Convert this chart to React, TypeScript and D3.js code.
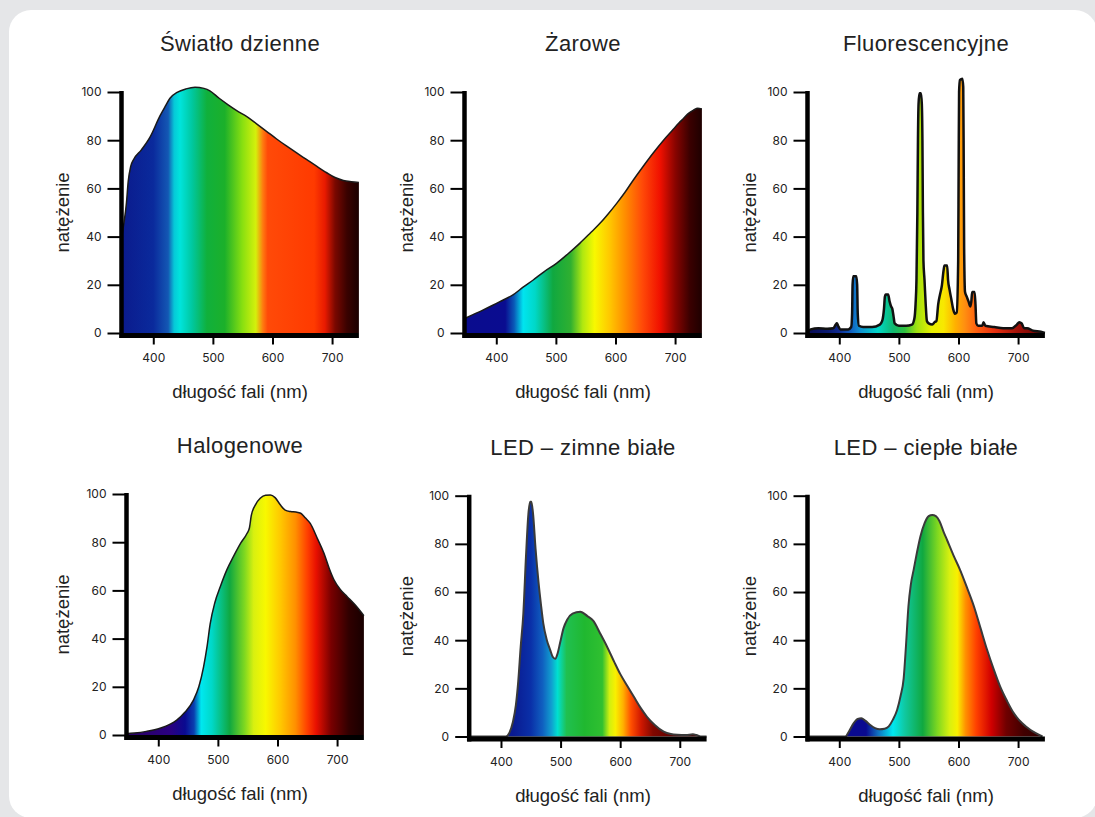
import React, { useEffect, useRef } from 'react';
import * as d3 from 'd3';

// wavelength (nm), relative intensity
const daylight: [number, number][] = [
  [347, 40], [351, 46], [355, 54], [358, 63], [362, 69], [367, 72], [380, 76], [395, 81.5], [411, 90],
  [420, 94], [428, 97.4], [440, 99.8], [455, 101.3], [470, 102], [485, 101.5], [495, 100.5], [510, 97.5],
  [525, 94.8], [540, 92.3], [557, 89.8], [575, 86.5], [590, 83.7], [607, 80.5], [624, 77.5], [640, 74.8],
  [657, 72], [674, 69.2], [691, 66.5], [705, 64.5], [719, 63.3], [732, 62.8], [745, 62.5],
];

const incandescent: [number, number][] = [
  [347, 6], [360, 7.5], [375, 9.2], [395, 11.6], [410, 13.5], [428, 15.8], [445, 19], [462, 22], [480, 25.4],
  [501, 28.9], [520, 32.8], [540, 37.2], [557, 41.3], [574, 45.5], [588, 49.5], [602, 53.8], [616, 58.4],
  [630, 63.5], [646, 69], [663, 74.6], [680, 79.8], [697, 84.5], [706, 87], [714, 89], [722, 91], [731, 92.5],
  [738, 93.3], [745, 93],
];

const fluorescent: [number, number][] = [
  [347, 0.5], [352, 1.5], [365, 2], [380, 1.8], [390, 2], [394, 3.5], [396, 4], [398, 3], [402, 1.5],
  [415, 1.5], [420, 2.5], [421.5, 8], [422.3, 20], [423.5, 23.5], [428.5, 23.5], [430, 20], [431, 8],
  [433, 3], [440, 2.5], [455, 2.5], [468, 3.5], [472, 5], [475, 10], [476.5, 15], [478, 16], [482, 16],
  [484.5, 13], [487, 11], [489, 10], [491, 7], [493, 4], [500, 3], [512, 3], [522, 3.5], [526, 6],
  [528, 12], [529.5, 22], [531, 50], [532, 80], [533, 95], [534.5, 99.5], [537, 99.5], [538.5, 95],
  [539.5, 80], [540.3, 50], [541.2, 30], [543, 22], [545, 12], [547, 5], [550, 4], [556, 3.5], [560, 4.5],
  [563, 5], [566, 12], [569, 16], [572, 19.5], [575, 26], [576.5, 28], [581, 28], [582.5, 22], [585, 18],
  [588, 14], [591, 10], [594, 8], [597, 8.5], [599.5, 30], [600.3, 70], [601, 100], [602.5, 105],
  [606.5, 105.5], [608, 102], [608.8, 70], [609.5, 35], [611, 17], [614, 15], [617, 13], [620, 11],
  [621.5, 13], [623, 17], [627, 17], [628.5, 12], [630, 4], [633, 3], [640, 3], [642, 4.5], [645, 3],
  [660, 2.5], [675, 2], [690, 2], [698, 3.5], [702, 4.5], [706, 4], [710, 2], [715, 2], [725, 1],
  [738, 0.5], [745, 0],
];

const halogen: [number, number][] = [
  [345, 0.5], [360, 0.8], [380, 1.5], [403, 2.8], [420, 4.5], [431, 6.2], [445, 9.5], [459, 14.5], [468, 20],
  [476, 28.3], [482, 37], [487, 46], [495, 55], [504, 61.5], [515, 68.5], [526, 74], [538, 79.5], [549, 83.7],
  [553, 86], [556, 91], [563, 95.5], [571, 98.2], [580, 99.5], [588, 99.6], [596, 98.5], [605, 95.4],
  [613, 93.3], [622, 92.7], [631, 92.5], [639, 92], [647, 90], [655, 87.8], [667, 81.5], [678, 75.4],
  [687, 69], [695, 64.3], [705, 60.5], [717, 57.4], [732, 53.5], [745, 49.5],
];

const ledCool: [number, number][] = [
  [345, 0], [408, 0], [414, 1.5], [420, 6], [425, 13], [429, 23], [433, 37], [437.5, 51], [442, 75],
  [446, 92.5], [449, 97.5], [451, 97.5], [454, 92], [458, 78], [463, 64], [467, 55], [471, 47], [477, 40],
  [482.5, 36], [487, 33], [491, 32.3], [495, 34.5], [499, 38.7], [505, 45], [511, 48.5], [520, 51],
  [533, 51.8], [545, 50], [555, 48], [566, 43], [578, 37.3], [590, 31], [600, 26], [612, 21], [623, 16.5],
  [634, 12], [645, 8.2], [658, 4.8], [673, 2], [685, 1], [696, 0.7], [710, 0.6], [722, 0.9], [728, 0.6],
  [735, 0], [745, 0],
];

const ledWarm: [number, number][] = [
  [345, 0], [410, 0], [416, 2], [424, 5.5], [431, 7.3], [437, 7.6], [444, 6.5], [452, 4.8], [460, 3.5],
  [468, 3], [476, 3.2], [483, 4.2], [490, 7], [497, 11], [503, 17], [508, 24], [512, 38], [516, 54], [520, 63],
  [525, 69.5], [530, 76], [536, 83], [543, 88.5], [550, 91.5], [556, 92], [562, 91.5], [568, 89.5], [575, 85],
  [581, 81.5], [592, 75], [603, 69], [614, 62], [626, 54], [637, 45], [648, 36], [659, 28], [670, 20.7],
  [682, 14.5], [693, 9.6], [707, 5.5], [721, 2.7], [733, 1], [741, 0],
];

const titles = ['Światło dzienne', 'Żarowe', 'Fluorescencyjne', 'Halogenowe', 'LED – zimne białe', 'LED – ciepłe białe'];
const xTicks = [400, 500, 600, 700];
const yTicks = [0, 20, 40, 60, 80, 100];
const xLabel = 'długość fali (nm)';
const yLabel = 'natężenie';

// spectrum colour stops per panel (wavelength, colour)
const stopsDaylight: [number, string][] = [
  [345, '#0b1a8c'], [400, '#0a2a9c'], [425, '#1458b4'], [435, '#06c8d8'], [445, '#00e4dc'], [465, '#00c8a0'],
  [490, '#10b03c'], [520, '#1cb02a'], [550, '#8ae010'], [572, '#d4f00c'], [584, '#ff7a10'], [592, '#ff4a08'],
  [670, '#ff3a00'], [688, '#e81a00'], [705, '#7a0800'], [725, '#3a0200'], [745, '#1a0000'],
];
const stopsIncandescent: [number, string][] = [
  [345, '#0a0c8e'], [415, '#0a0c90'], [430, '#0a5ab8'], [445, '#00e4f0'], [465, '#00d8c8'], [495, '#10a840'],
  [525, '#30b030'], [545, '#b0e810'], [565, '#f8f800'], [590, '#ffc800'], [615, '#ff9000'], [645, '#ff4a08'],
  [675, '#f01000'], [700, '#8a0400'], [725, '#3a0000'], [745, '#1e0000'],
];
const stopsFluorescent: [number, string][] = [
  [345, '#0a0a50'], [380, '#0a1a70'], [400, '#102a90'], [420, '#1060c0'], [435, '#1090d0'], [465, '#00d8c8'],
  [490, '#10b870'], [510, '#30c040'], [530, '#a0e010'], [555, '#e8f000'], [575, '#f8e800'], [595, '#ffb000'],
  [610, '#ff9010'], [630, '#ff6010'], [660, '#e83010'], [700, '#a01008'], [745, '#600000'],
];
const stopsHalogen: [number, string][] = [
  [345, '#2a0060'], [420, '#2a0080'], [445, '#0a0a90'], [460, '#0a40b0'], [472, '#00e8f0'], [490, '#00d8c8'],
  [520, '#10a840'], [545, '#80d820'], [560, '#d8f010'], [580, '#f8f800'], [605, '#ffc800'], [630, '#ff9000'],
  [650, '#ff4000'], [665, '#e81000'], [690, '#780000'], [720, '#300000'], [745, '#180000'],
];
const stopsLedCool: [number, string][] = [
  [345, '#0a1a8a'], [420, '#0a1a90'], [450, '#0a30a8'], [470, '#1060c0'], [485, '#10a0d0'], [495, '#00e0d0'],
  [510, '#20c050'], [540, '#20b830'], [570, '#30c030'], [582, '#d0f010'], [592, '#f8f000'], [605, '#ffb000'],
  [618, '#ff5000'], [635, '#d01800'], [655, '#800800'], [690, '#600000'], [745, '#400000'],
];
const stopsLedWarm: [number, string][] = [
  [345, '#0a0a90'], [445, '#0a0a90'], [465, '#1070c0'], [490, '#00e8f0'], [510, '#10c8a0'], [540, '#10a840'],
  [565, '#80d820'], [585, '#d8f010'], [598, '#f8f000'], [612, '#ff9000'], [630, '#ff4000'], [655, '#d00000'],
  [680, '#700000'], [710, '#400000'], [745, '#300000'],
];

const series = [daylight, incandescent, fluorescent, halogen, ledCool, ledWarm];
const stops = [stopsDaylight, stopsIncandescent, stopsFluorescent, stopsHalogen, stopsLedCool, stopsLedWarm];

// layout: x of 345 nm, y of 0, y of 100, column centre, y-label x, outline
const layout = [
  { x0: 120.5, y0: 333, y100: 92, cx: 240, lx: 62, stroke: '#1a1a1a', sw: 1.5 },
  { x0: 463.5, y0: 333, y100: 92, cx: 583, lx: 406, stroke: '#1a1a1a', sw: 1.5 },
  { x0: 806.5, y0: 333, y100: 92, cx: 926, lx: 749, stroke: '#111', sw: 2.5 },
  { x0: 125.5, y0: 735, y100: 494, cx: 240, lx: 62, stroke: '#1a1a1a', sw: 1.5 },
  { x0: 468.2, y0: 736.5, y100: 495.7, cx: 583, lx: 406, stroke: '#3a3a3a', sw: 2 },
  { x0: 806.5, y0: 736.5, y100: 495.7, cx: 926, lx: 749, stroke: '#3a3a3a', sw: 2 },
];

const PX_PER_NM = 0.596;
const tickFont = 'Inter, "DejaVu Sans", sans-serif';
const textFont = '"Liberation Sans", Arial, sans-serif';

const Panel = ({ i }: { i: number }) => {
  const L = layout[i];
  const data = series[i];
  const xRef = useRef<SVGGElement>(null);
  const yRef = useRef<SVGGElement>(null);
  const x = d3.scaleLinear().domain([345, 745]).range([L.x0, L.x0 + 400 * PX_PER_NM]);
  const y = d3.scaleLinear().domain([0, 100]).range([L.y0, L.y100]);

  useEffect(() => {
    const gx = d3.select(xRef.current);
    gx.call(d3.axisBottom(x).tickValues(xTicks).tickSize(9).tickPadding(9) as any);
    gx.select('.domain').remove();
    gx.selectAll('line').attr('stroke', '#000').attr('stroke-width', 2);
    gx.selectAll('text').attr('font-family', tickFont).attr('font-size', 12).attr('fill', '#222');

    const gy = d3.select(yRef.current);
    gy.call(d3.axisLeft(y).tickValues(yTicks).tickSize(13).tickPadding(6) as any);
    gy.select('.domain').remove();
    gy.selectAll('line').attr('stroke', '#000').attr('stroke-width', 2);
    gy.selectAll('text').attr('font-family', tickFont).attr('font-size', 12).attr('fill', '#222');
  }, []);

  const area = d3.area<[number, number]>()
    .x(d => x(d[0])).y0(y(0)).y1(d => y(d[1])).curve(d3.curveMonotoneX);
  const line = d3.line<[number, number]>()
    .x(d => x(d[0])).y(d => y(d[1])).curve(d3.curveMonotoneX);

  const gid = `spec-${i}`;
  const xEnd = x(745);
  const midY = (L.y0 + L.y100) / 2;

  return (
    <g>
      <defs>
        <linearGradient id={gid} gradientUnits="userSpaceOnUse" x1={x(345)} x2={xEnd} y1={0} y2={0}>
          {stops[i].map(([nm, c], k) => (
            <stop key={k} offset={(nm - 345) / 400} stopColor={c} />
          ))}
        </linearGradient>
      </defs>
      <text x={L.cx} y={L.y100 - 41} textAnchor="middle" fontFamily={textFont} fontSize={22}
        letterSpacing={0.4} fill="#222">
        {titles[i]}
      </text>
      <path d={area(data) || ''} fill={`url(#${gid})`} />
      <path d={line(data) || ''} fill="none" stroke={L.stroke} strokeWidth={L.sw} strokeLinejoin="round" />
      <g ref={yRef} transform={`translate(${L.x0},0)`} />
      <g ref={xRef} transform={`translate(0,${L.y0 + 2.5})`} />
      <line x1={L.x0 + 1} x2={L.x0 + 1} y1={L.y100 - 1} y2={L.y0 + 5} stroke="#000" strokeWidth={4.5} />
      <line x1={L.x0 - 1} x2={xEnd} y1={L.y0 + 2.5} y2={L.y0 + 2.5} stroke="#000" strokeWidth={5} />
      <text x={L.cx} y={L.y0 + 65} textAnchor="middle" fontFamily={textFont} fontSize={18.5} fill="#222">
        {xLabel}
      </text>
      <text transform={`translate(${L.lx},${midY}) rotate(-90)`} textAnchor="middle" dominantBaseline="central"
        fontFamily={textFont} fontSize={18.5} fill="#222">
        {yLabel}
      </text>
    </g>
  );
};

export default function App() {
  return (
    <svg width={1095} height={817} style={{ position: 'absolute', left: 0, top: 0, display: 'block' }}>
      <rect x={0} y={0} width={1095} height={817} fill="#e5e6e8" />
      <rect x={9} y={10} width={1088} height={808} rx={22} fill="#ffffff" />
      {series.map((_, i) => <Panel key={i} i={i} />)}
    </svg>
  );
}
